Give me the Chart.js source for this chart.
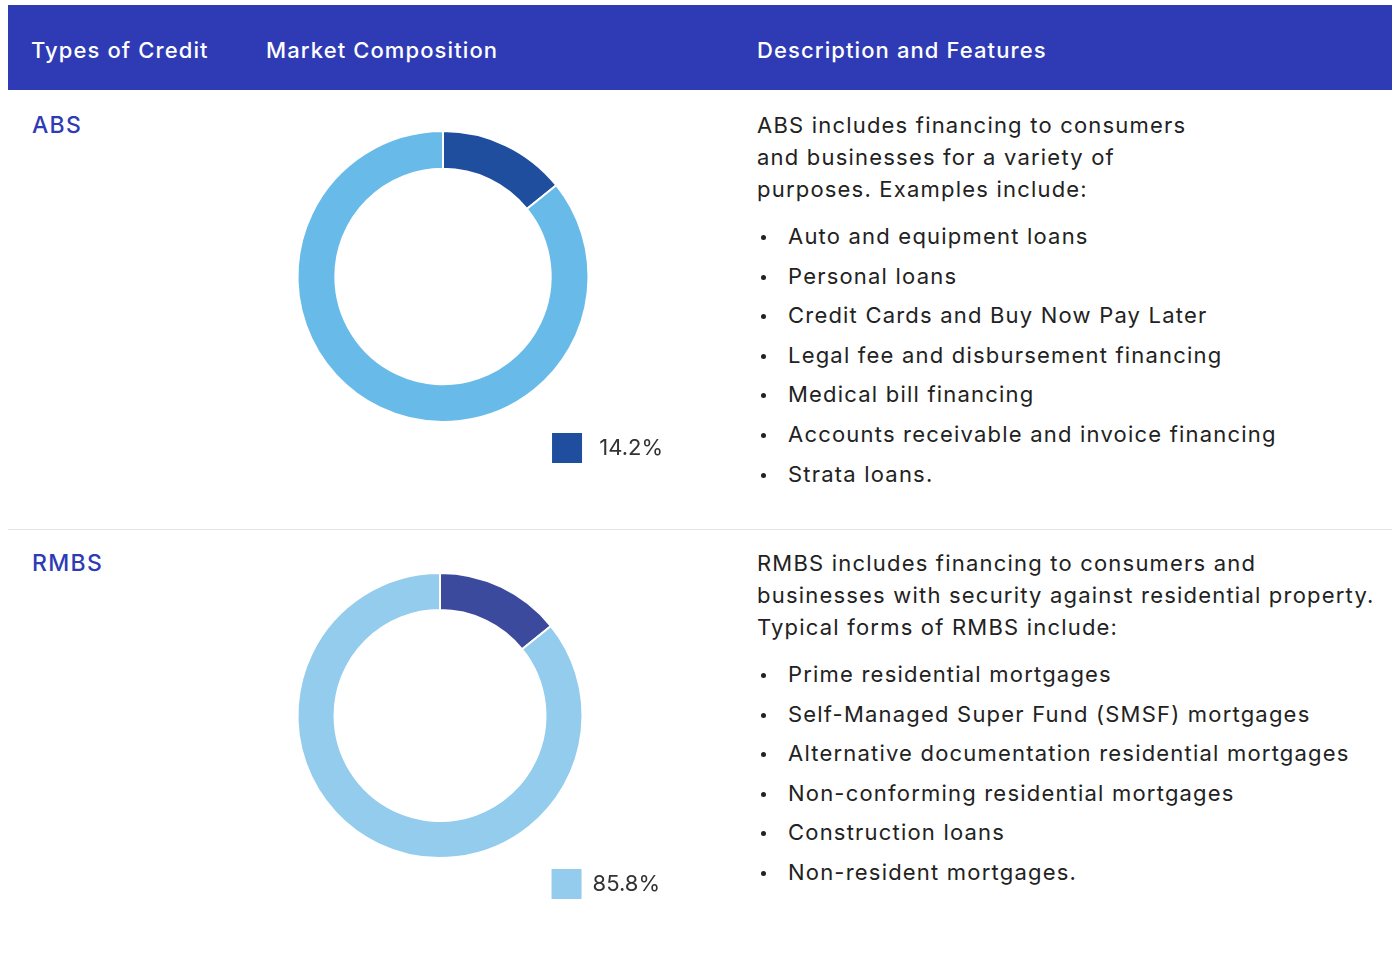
<!DOCTYPE html>
<html>
<head>
<meta charset="utf-8">
<script src="https://cdn.jsdelivr.net/npm/chart.js@4"></script>
<style>
  body { margin: 0; background: #fff; font-family: Inter, "Noto Sans", sans-serif; color: #222; }
  .page { position: relative; width: 1397px; height: 954px; }
  .header { position: absolute; left: 8px; top: 5px; width: 1384px; height: 85px; background: #2e3bb5; }
  .header span { position: absolute; top: 32px; color: #fff; font-size: 22px; font-weight: 500; letter-spacing: 1.1px; }
  .type { position: absolute; left: 32px; color: #2e3bb5; font-size: 23px; font-weight: 500; letter-spacing: 1.3px; }
  .desc { position: absolute; left: 757px; font-size: 22px; line-height: 32px; color: #222; letter-spacing: 1.2px; white-space: nowrap; }
  .desc ul { margin: 12px 0 0 0; padding: 0 0 0 31px; list-style: none; }
  .desc li { line-height: 39.6px; position: relative; }
  .desc li::before { content: ''; position: absolute; left: -27px; top: 18px; width: 5px; height: 5px; border-radius: 50%; background: #222; }
  .divider { position: absolute; left: 8px; top: 529px; width: 1384px; height: 1px; background: #e4e4e4; }
  .chart { position: absolute; }
</style>
</head>
<body>
<div class="page">
  <div class="header">
    <span style="left:23px">Types of Credit</span>
    <span style="left:258px">Market Composition</span>
    <span style="left:749px">Description and Features</span>
  </div>

  <div class="type" style="top:111px">ABS</div>
  <div class="chart" style="left:213px; top:130px; width:460px; height:343px;"><canvas id="absChart"></canvas></div>
  <div class="desc" style="top:109px;">
    ABS includes financing to consumers<br>and businesses for a variety of<br>purposes. Examples include:
    <ul id="absList"></ul>
  </div>

  <div class="divider"></div>

  <div class="type" style="top:549px">RMBS</div>
  <div class="chart" style="left:210px; top:572px; width:460px; height:337px;"><canvas id="rmbsChart"></canvas></div>
  <div class="desc" style="top:547px;">
    RMBS includes financing to consumers and<br>businesses with security against residential property.<br>Typical forms of RMBS include:
    <ul id="rmbsList"></ul>
  </div>
</div>

<script>
// shares of each credit type: [type itself, rest of market]
const categories = ['ABS', 'RMBS'];
const absValues = [14.2, 85.8];
const rmbsValues = [14.2, 85.8];
const sliceLabels = ['14.2%', '85.8%'];

const absColors = ['#1f4e9f', '#68bbe8'];
const rmbsColors = ['#3c4a9e', '#94ccee'];

const absItems = [
  'Auto and equipment loans',
  'Personal loans',
  'Credit Cards and Buy Now Pay Later',
  'Legal fee and disbursement financing',
  'Medical bill financing',
  'Accounts receivable and invoice financing',
  'Strata loans.'
];
const rmbsItems = [
  'Prime residential mortgages',
  'Self-Managed Super Fund (SMSF) mortgages',
  'Alternative documentation residential mortgages',
  'Non-conforming residential mortgages',
  'Construction loans',
  'Non-resident mortgages.'
];

function fill_list(id, items) {
  let ul = document.getElementById(id);
  items.forEach(t => {
    let li = document.createElement('li');
    li.textContent = t;
    ul.appendChild(li);
  });
}
fill_list('absList', absItems);
fill_list('rmbsList', rmbsItems);

function donut(id, values, colors, showIndex, gap) {
  return new Chart(document.getElementById(id), {
    type: 'doughnut',
    data: {
      labels: sliceLabels,
      datasets: [{
        data: values,
        backgroundColor: colors,
        borderColor: '#fff',
        borderWidth: 2
      }]
    },
    options: {
      responsive: true,
      maintainAspectRatio: false,
      animation: false,
      cutout: '74%',
      layout: { padding: 0 },
      plugins: {
        tooltip: { enabled: false },
        legend: {
          position: 'bottom',
          align: 'end',
          labels: {
            boxWidth: 30,
            boxHeight: 30,
            padding: 10,
            color: '#333',
            font: { family: 'Inter', size: 22 },
            generateLabels: chart => {
              let items = Chart.overrides.doughnut.plugins.legend.labels.generateLabels(chart);
              items.forEach(it => { it.text = gap + it.text; it.lineWidth = 0; });
              return items.filter(it => it.index == showIndex);
            }
          }
        }
      }
    }
  });
}

donut('absChart', absValues, absColors, 0, ' ');
donut('rmbsChart', rmbsValues, rmbsColors, 1, '');
</script>
</body>
</html>
